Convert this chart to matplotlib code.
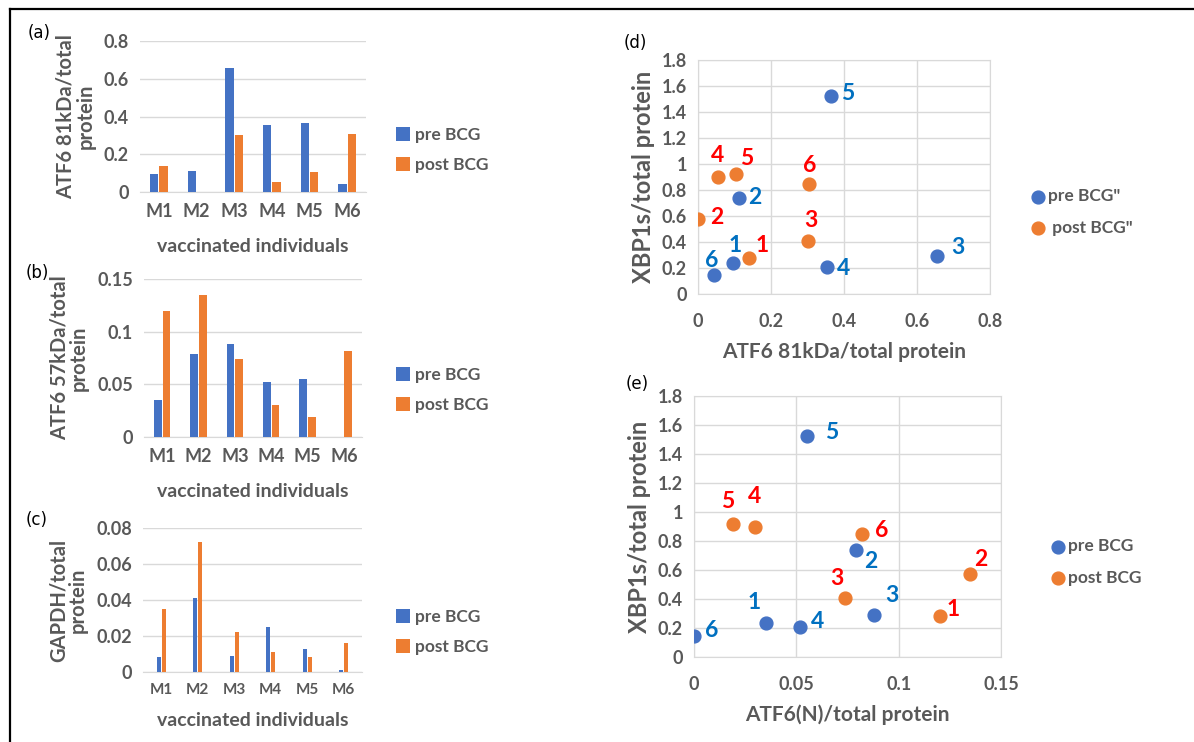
import numpy as np
import matplotlib.pyplot as plt
import matplotlib as mpl
from matplotlib.lines import Line2D

mpl.rcParams.update({'font.family': ['Lato', 'DejaVu Sans'], 'font.weight': 'bold',
                     'axes.labelweight': 'bold'})

individuals = ['M1', 'M2', 'M3', 'M4', 'M5', 'M6']
ids = ['1', '2', '3', '4', '5', '6']
atf6_81_pre = [0.095, 0.112, 0.655, 0.353, 0.364, 0.044]
atf6_81_post = [0.140, 0.0, 0.301, 0.055, 0.104, 0.305]
atf6_57_pre = [0.035, 0.079, 0.088, 0.052, 0.055, 0.0]
atf6_57_post = [0.120, 0.135, 0.074, 0.030, 0.019, 0.082]
gapdh_pre = [0.0082, 0.041, 0.009, 0.025, 0.0128, 0.001]
gapdh_post = [0.035, 0.072, 0.022, 0.011, 0.0083, 0.016]
xbp1_pre = [0.235, 0.740, 0.290, 0.205, 1.525, 0.145]
xbp1_post = [0.280, 0.575, 0.410, 0.900, 0.920, 0.845]

BLUE, ORANGE = '#4472C4', '#ED7D31'
LBLUE, LRED = '#0070C0', '#FF0000'
GREY, GRID = '#595959', '#D9D9D9'

W, H = 1194, 742
fig = plt.figure(figsize=(W / 100, H / 100), dpi=100)

def rect(l, t, r, b):
    return [l / W, 1 - b / H, (r - l) / W, (b - t) / H]

def fmt_g(t):
    return '0' if t == 0 else ('%g' % round(t, 3))

def bar_panel(box, pre, post, ymax, step, ylabel, width, off, tag, tagxy, xlab_size, leg_y, xpad):
    ax = fig.add_axes(rect(*box))
    x = np.arange(len(individuals))
    ax.bar(x - off, pre, width, color=BLUE, label='pre BCG', zorder=3)
    ax.bar(x + off, post, width, color=ORANGE, label='post BCG', zorder=3)
    ax.set_xlim(-0.5, 5.5)
    ax.set_ylim(0, ymax)
    ticks = np.arange(0, ymax + step / 2, step)
    ax.set_yticks(ticks)
    ax.set_yticklabels([fmt_g(t) for t in ticks], fontweight='bold')
    ax.set_xticks(x)
    ax.set_xticklabels(individuals, fontsize=xlab_size, fontweight='bold')
    ax.yaxis.grid(True, color=GRID, lw=1, zorder=0)
    for s in ['top', 'right', 'left']:
        ax.spines[s].set_visible(False)
    ax.spines['bottom'].set_color(GRID)
    ax.tick_params(length=0, colors=GREY, labelsize=13, pad=8)
    ax.tick_params(axis='x', labelsize=xlab_size)
    ax.set_ylabel(ylabel, fontsize=14.5, color=GREY, linespacing=0.95, labelpad=6)
    ax.set_xlabel('vaccinated individuals', fontsize=14, color=GREY, labelpad=xpad)
    ax.legend(loc='center left', bbox_to_anchor=(380 / W, 1 - leg_y / H), bbox_transform=fig.transFigure,
              frameon=False, prop={'size': 12.5, 'weight': 'bold'}, handlelength=0.8, handleheight=0.8,
              handletextpad=0.3, labelspacing=0.8, labelcolor=GREY)
    fig.text(tagxy[0] / W, 1 - tagxy[1] / H, tag, fontsize=12, fontweight='normal',
             family='DejaVu Sans', ha='left', va='center')
    return ax

bar_panel((140, 41, 366, 192), atf6_81_pre, atf6_81_post, 0.8, 0.2,
          'ATF6 81kDa/total\nprotein', 0.22, 0.125, '(a)', (28, 33), 13, 150, 13)
bar_panel((144, 279, 362, 437), atf6_57_pre, atf6_57_post, 0.15, 0.05,
          'ATF6 57kDa/total\nprotein', 0.21, 0.12, '(b)', (26, 273), 13, 390, 13)
bar_panel((143, 528, 362, 672), gapdh_pre, gapdh_post, 0.08, 0.02,
          'GAPDH/total\nprotein', 0.11, 0.075, '(c)', (26, 520), 11, 632, 11)

def scatter_panel(box, xpre, xpost, xmax, xstep, xlabel, pre_off, post_off, leg_lbl, leg_xy, tag, tagxy):
    ax = fig.add_axes(rect(*box))
    ax.scatter(xpre, xbp1_pre, s=85, color=BLUE, label=leg_lbl[0], zorder=3)
    ax.scatter(xpost, xbp1_post, s=85, color=ORANGE, label=leg_lbl[1], zorder=3)
    for i, lab in enumerate(ids):
        ax.annotate(lab, (xpre[i], xbp1_pre[i]), xytext=pre_off[i], textcoords='offset pixels',
                    color=LBLUE, fontsize=16.5, fontweight='bold', ha='center', va='center', zorder=4)
        ax.annotate(lab, (xpost[i], xbp1_post[i]), xytext=post_off[i], textcoords='offset pixels',
                    color=LRED, fontsize=16.5, fontweight='bold', ha='center', va='center', zorder=4)
    ax.set_xlim(0, xmax)
    ax.set_ylim(0, 1.8)
    xt = np.arange(0, xmax + xstep / 2, xstep)
    ax.set_xticks(xt)
    ax.set_xticklabels([fmt_g(t) for t in xt], fontweight='bold')
    yt = np.arange(0, 1.81, 0.2)
    ax.set_yticks(yt)
    ax.set_yticklabels([fmt_g(t) for t in yt], fontweight='bold')
    ax.grid(True, color=GRID, lw=1, zorder=0)
    for s in ax.spines.values():
        s.set_color(GRID)
    ax.tick_params(length=0, colors=GREY, labelsize=13, pad=8)
    ax.tick_params(axis='x', pad=14)
    ax.set_xlabel(xlabel, fontsize=15, color=GREY, labelpad=8)
    ax.set_ylabel('XBP1s/total protein', fontsize=17, color=GREY, labelpad=5)
    ax.legend(loc='center left', bbox_to_anchor=(leg_xy[0] / W, 1 - leg_xy[1] / H), bbox_transform=fig.transFigure,
              frameon=False, prop={'size': 12.5, 'weight': 'bold'}, handlelength=0.6, handletextpad=0.3,
              labelspacing=0.9, labelcolor=GREY)
    fig.text(tagxy[0] / W, 1 - tagxy[1] / H, tag, fontsize=12, fontweight='normal',
             family='DejaVu Sans', ha='left', va='center')
    return ax

d_pre = [(2, 18), (16, 0), (21, 9), (17, -1), (17, 2), (-2, 15)]
d_post = [(13, 12), (19, 2), (3, 20), (-1, 22), (11, 16), (0, 19)]
scatter_panel((698, 60, 990, 294), atf6_81_pre, atf6_81_post, 0.8, 0.2, 'ATF6 81kDa/total protein',
              d_pre, d_post, ['pre BCG"', ' post BCG"'], (1017, 212), '(d)', (624, 43))

e_pre = [(-12, 20), (15, -12), (18, 19), (17, 6), (25, 3), (18, 5)]
e_post = [(14, 7), (10, 14), (-9, 19), (-1, 30), (-5, 22), (20, 4)]
scatter_panel((694, 396, 1001, 657), atf6_57_pre, atf6_57_post, 0.15, 0.05, 'ATF6(N)/total protein',
              e_pre, e_post, ['pre BCG', 'post BCG'], (1037, 562), '(e)', (626, 384))

# outer frame (top and left edges)
fig.add_artist(Line2D([10 / W, 10 / W], [0, 1 - 9 / H], color='black', lw=1.6, transform=fig.transFigure))
fig.add_artist(Line2D([10 / W, 1], [1 - 9 / H, 1 - 9 / H], color='black', lw=1.6, transform=fig.transFigure))

fig.savefig('out.png', dpi=100, facecolor='white')
